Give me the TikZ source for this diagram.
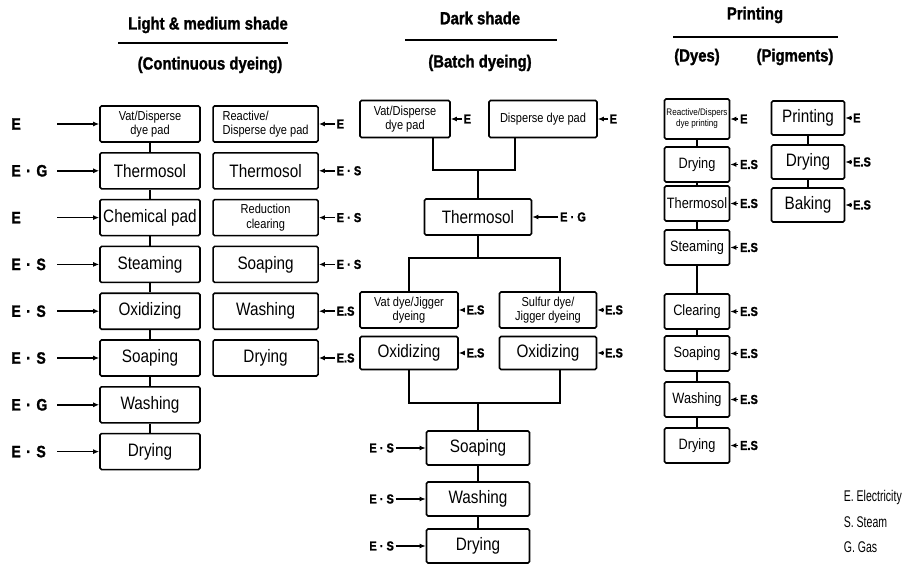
\documentclass[tikz,border=0pt]{standalone}
\usepackage{fontspec}
\setmainfont{Liberation Sans}[FakeStretch=0.85, BoldFeatures={FakeBold=1.4}]
\newfontfamily\legendfont{Liberation Sans}[FakeStretch=0.68]
\usetikzlibrary{positioning,arrows.meta}

\begin{document}
\begin{tikzpicture}[
  x=1pt, y=-1pt, line width=1.6pt,
  box/.style={draw, rounded corners=1.5pt, align=center, inner sep=2pt, minimum width=100pt, minimum height=36pt, font=\fontsize{18}{20}\selectfont},
  sbox/.style={box, font=\fontsize{13}{14.5}\selectfont},
  pbox/.style={box, minimum width=65pt, minimum height=35pt, font=\fontsize{15}{17}\selectfont},
  gbox/.style={box, minimum width=73pt, minimum height=34pt},
  head/.style={font=\fontsize{17.5}{19}\selectfont\bfseries, inner sep=0pt},
  lbl/.style={font=\fontsize{13}{15}\selectfont\bfseries, inner sep=1pt},
  lblL/.style={lbl, text width=44pt, align=left, font=\fontsize{16.5}{18}\selectfont\bfseries},
  legend/.style={anchor=west, inner sep=0pt, font=\legendfont\fontsize{15.5}{18}\selectfont},
  ar/.style={-{Latex[length=6pt,width=5pt]}}]

  \useasboundingbox (0,0) rectangle (906,565);

  \node[head] (hLight) at (208,25) {Light \& medium shade};
  \draw (118,43) -- (288,43);
  \node[head] (hCont) at (210,65) {(Continuous dyeing)};
  \node[head] (hDark) at (480,18) {Dark shade};
  \draw (405,40) -- (557,40);
  \node[head] (hBatch) at (480,63) {(Batch dyeing)};
  \node[head] (hPrint) at (755,15) {Printing};
  \draw (673,37) -- (838,37);
  \node[head] (hDyes) at (697,57) {(Dyes)};
  \node[head] (hPigm) at (795,57) {(Pigments)};

  % continuous dyeing
  \node[sbox] (vatA) at (150,124) {Vat/Disperse\\dye pad};
  \node[box, below=9.2pt of vatA] (thermoA) {Thermosol};
  \node[box, below=9.2pt of thermoA] (chemA) {Chemical pad};
  \node[box, below=9.2pt of chemA] (steamA) {Steaming};
  \node[box, below=9.2pt of steamA] (oxA) {Oxidizing};
  \node[box, below=9.2pt of oxA] (soapA) {Soaping};
  \node[box, below=9.2pt of soapA] (washA) {Washing};
  \node[box, below=9.2pt of washA] (dryA) {Drying};

  \node[sbox, minimum width=105pt, align=left, right=11.5pt of vatA] (reactB) {Reactive/\\Disperse dye pad};
  \node[box, minimum width=105pt, right=11.5pt of thermoA] (thermoB) {Thermosol};
  \node[sbox, minimum width=105pt, right=11.5pt of chemA] (reductB) {Reduction\\clearing};
  \node[box, minimum width=105pt, right=11.5pt of steamA] (soapB) {Soaping};
  \node[box, minimum width=105pt, right=11.5pt of oxA] (washB) {Washing};
  \node[box, minimum width=105pt, right=11.5pt of soapA] (dryB) {Drying};

  \node[lblL, left=42pt of vatA] (eA1) {E};
  \node[lblL, left=42pt of thermoA] (eA2) {E · G};
  \node[lblL, left=42pt of chemA] (eA3) {E};
  \node[lblL, left=42pt of steamA] (eA4) {E · S};
  \node[lblL, left=42pt of oxA] (eA5) {E · S};
  \node[lblL, left=42pt of soapA] (eA6) {E · S};
  \node[lblL, left=42pt of washA] (eA7) {E · G};
  \node[lblL, left=42pt of dryA] (eA8) {E · S};

  \node[lbl, right=16pt of reactB] (eB1) {E};
  \node[lbl, right=16pt of thermoB] (eB2) {E · S};
  \node[lbl, right=16pt of reductB] (eB3) {E · S};
  \node[lbl, right=16pt of soapB] (eB4) {E · S};
  \node[lbl, right=16pt of washB] (eB5) {E.S};
  \node[lbl, right=16pt of dryB] (eB6) {E.S};

  \draw[ar] (eA1) -- (vatA);
  \draw[ar] (eA2) -- (thermoA);
  \draw[ar] (eA3) -- (chemA);
  \draw[ar] (eA4) -- (steamA);
  \draw[ar] (eA5) -- (oxA);
  \draw[ar] (eA6) -- (soapA);
  \draw[ar] (eA7) -- (washA);
  \draw[ar] (eA8) -- (dryA);
  \draw (vatA) -- (thermoA);
  \draw (thermoA) -- (chemA);
  \draw (chemA) -- (steamA);
  \draw (steamA) -- (oxA);
  \draw (oxA) -- (soapA);
  \draw (soapA) -- (washA);
  \draw (washA) -- (dryA);

  \draw[ar] (eB1) -- (reactB);
  \draw[ar] (eB2) -- (thermoB);
  \draw[ar] (eB3) -- (reductB);
  \draw[ar] (eB4) -- (soapB);
  \draw[ar] (eB5) -- (washB);
  \draw[ar] (eB6) -- (dryB);

  % batch dyeing
  \node[sbox, minimum width=90pt, minimum height=37pt] (vatM) at (405,119) {Vat/Disperse\\dye pad};
  \node[sbox, minimum width=108pt, minimum height=37pt] (dispM) at (543,119) {Disperse dye pad};
  \node[box, minimum width=107pt] (thermoM) at (478,217) {Thermosol};
  \node[sbox, minimum width=98pt] (jigV) at (409,310) {Vat dye/Jigger\\dyeing};
  \node[sbox, minimum width=97pt] (jigS) at (548,310) {Sulfur dye/\\Jigger dyeing};
  \node[box, minimum width=98pt, minimum height=33pt] (oxV) at (409,353) {Oxidizing};
  \node[box, minimum width=97pt, minimum height=33pt] (oxS) at (548,353) {Oxidizing};
  \node[box, minimum width=103pt, minimum height=34pt] (soapM) at (478,448) {Soaping};
  \node[box, minimum width=103pt, minimum height=34pt, below=15.4pt of soapM] (washM) {Washing};
  \node[box, minimum width=103pt, minimum height=34pt, below=11.4pt of washM] (dryM) {Drying};

  \coordinate (j1) at (478,170);
  \coordinate (j2) at (478,258);
  \coordinate (j3) at (478,403);
  \draw ([xshift=28pt]vatM.south) |- (j1) -| ([xshift=-28pt]dispM.south);
  \draw (j1) -- (thermoM);
  \draw (thermoM) -- (j2);
  \draw (jigV.north) |- (j2) -| ([xshift=12pt]jigS.north);
  \draw (oxV.south) |- (j3) -| ([xshift=12pt]oxS.south);
  \draw (j3) -- (soapM);
  \draw (soapM) -- (washM);
  \draw (washM) -- (dryM);

  \node[lbl, right=11pt of vatM] (eM1) {E};
  \node[lbl, right=10pt of dispM] (eM2) {E};
  \node[lbl, right=26pt of thermoM] (eM3) {E · G};
  \node[lbl, right=6pt of jigV] (eM4) {E.S};
  \node[lbl, right=6pt of jigS] (eM5) {E.S};
  \node[lbl, right=6pt of oxV] (eM6) {E.S};
  \node[lbl, right=6pt of oxS] (eM7) {E.S};
  \node[lbl, left=30pt of soapM] (eM8) {E · S};
  \node[lbl, left=30pt of washM] (eM9) {E · S};
  \node[lbl, left=30pt of dryM] (eM10) {E · S};

  \draw[ar] (eM1) -- (vatM);
  \draw[ar] (eM2) -- (dispM);
  \draw[ar] (eM3) -- (thermoM);
  \draw[ar] (eM4) -- (jigV);
  \draw[ar] (eM5) -- (jigS);
  \draw[ar] (eM6) -- (oxV);
  \draw[ar] (eM7) -- (oxS);
  \draw[ar] (eM8) -- (soapM);
  \draw[ar] (eM9) -- (washM);
  \draw[ar] (eM10) -- (dryM);

  % printing
  \node[pbox, minimum height=40pt, font=\fontsize{9.5}{11}\selectfont] (reactP) at (697,119) {Reactive/Dispers\\dye printing};
  \node[pbox, below=6.4pt of reactP] (dryP) {Drying};
  \node[pbox, below=2.4pt of dryP] (thermoP) {Thermosol};
  \node[pbox, below=7.4pt of thermoP] (steamP) {Steaming};
  \node[pbox, below=27.4pt of steamP] (clearP) {Clearing};
  \node[pbox, below=5.4pt of clearP] (soapP) {Soaping};
  \node[pbox, below=9.4pt of soapP] (washP) {Washing};
  \node[pbox, below=9.4pt of washP] (dryP2) {Drying};

  \node[gbox] (printG) at (808,118) {Printing};
  \node[gbox, below=8.4pt of printG] (dryG) {Drying};
  \node[gbox, below=7.4pt of dryG] (bakeG) {Baking};

  \draw (reactP) -- (dryP);
  \draw (dryP) -- (thermoP);
  \draw (thermoP) -- (steamP);
  \draw (steamP) -- (clearP);
  \draw (clearP) -- (soapP);
  \draw (soapP) -- (washP);
  \draw (washP) -- (dryP2);
  \draw (printG) -- (dryG);
  \draw (dryG) -- (bakeG);

  \node[lbl, right=8pt of reactP] (eP1) {E};
  \node[lbl, right=8pt of dryP] (eP2) {E.S};
  \node[lbl, right=8pt of thermoP] (eP3) {E.S};
  \node[lbl, right=8pt of steamP] (eP4) {E.S};
  \node[lbl, right=8pt of clearP] (eP5) {E.S};
  \node[lbl, right=8pt of soapP] (eP6) {E.S};
  \node[lbl, right=8pt of washP] (eP7) {E.S};
  \node[lbl, right=8pt of dryP2] (eP8) {E.S};
  \node[lbl, right=6pt of printG] (eG1) {E};
  \node[lbl, right=6pt of dryG] (eG2) {E.S};
  \node[lbl, right=6pt of bakeG] (eG3) {E.S};

  \draw[ar] (eP1) -- (reactP);
  \draw[ar] (eP2) -- (dryP);
  \draw[ar] (eP3) -- (thermoP);
  \draw[ar] (eP4) -- (steamP);
  \draw[ar] (eP5) -- (clearP);
  \draw[ar] (eP6) -- (soapP);
  \draw[ar] (eP7) -- (washP);
  \draw[ar] (eP8) -- (dryP2);
  \draw[ar] (eG1) -- (printG);
  \draw[ar] (eG2) -- (dryG);
  \draw[ar] (eG3) -- (bakeG);

  \node[legend] (legE) at (843,497) {E. Electricity};
  \node[legend] (legS) at (843,522) {S. Steam};
  \node[legend] (legG) at (843,547) {G. Gas};
\end{tikzpicture}
\end{document}
